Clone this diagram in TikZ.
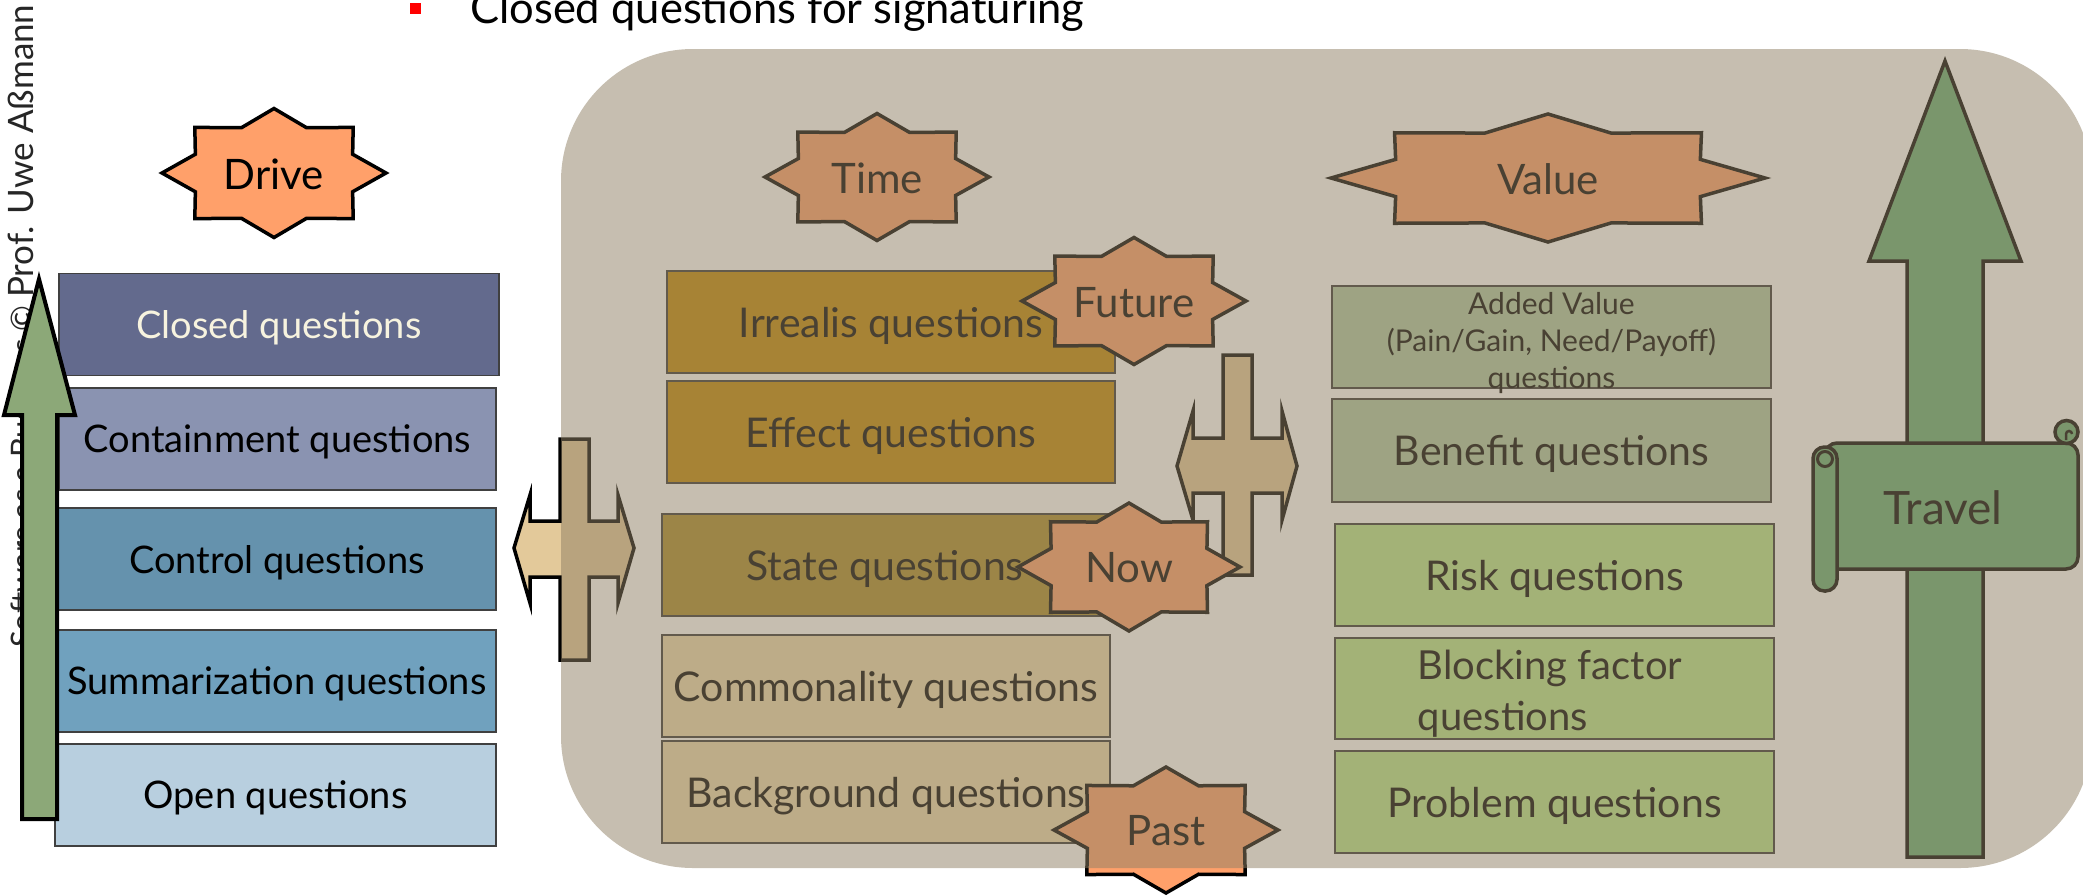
\documentclass[tikz,border=0pt]{standalone}
\usepackage{fontspec}
\setmainfont{Lato}
\definecolor{ovl}{RGB}{144,128,101}
\definecolor{starorange}{RGB}{255,160,106}
\definecolor{crosstan}{RGB}{227,201,154}
\definecolor{lgreen}{RGB}{140,168,120}
\definecolor{travelgreen}{RGB}{99,174,116}
\definecolor{cClosed}{RGB}{99,106,141}
\definecolor{cContain}{RGB}{138,147,177}
\definecolor{cControl}{RGB}{101,146,173}
\definecolor{cSumm}{RGB}{112,161,190}
\definecolor{cOpen}{RGB}{184,207,223}
\definecolor{cCream}{RGB}{247,243,223}
\definecolor{cIrr}{RGB}{193,136,4}
\definecolor{cState}{RGB}{169,140,41}
\definecolor{cCommon}{RGB}{237,219,173}
\definecolor{cAdded}{RGB}{173,202,163}
\definecolor{cRisk}{RGB}{185,231,140}
\newcommand{\eightstar}[5]{%
  \draw[#1] plot[samples at={0,...,15}]
    ({#2+#4*(1-0.24*mod(\x,2))*cos(\x*22.5)},{#3+#5*(1-0.24*mod(\x,2))*sin(\x*22.5)}) -- cycle;}
\begin{document}
\begin{tikzpicture}[x=1pt,y=-1pt,
  lbox/.style={draw=black!75,line width=1.2pt,inner sep=0pt,minimum height=102pt,text depth=0pt,
    font=\fontsize{38}{46}\selectfont},
  rbox/.style={draw=black!80,line width=1.5pt,inner sep=0pt,minimum width=446pt,minimum height=102pt,
    text depth=0pt,font=\fontsize{41}{49}\selectfont},
  starsty/.style={fill=starorange,draw=black,line width=3.5pt},
  startext/.style={inner sep=0pt,font=\fontsize{42}{50}\selectfont},
  shapeline/.style={draw=black,line width=3.5pt,line join=miter}]
\useasboundingbox (0,0) rectangle (2083,895);
\clip (0,0) rectangle (2083,895);

% title
\node[fill=red,inner sep=0pt,minimum width=11pt,minimum height=11pt] (bullet) at (415.5,8.5) {};
\node[anchor=base west,inner sep=0pt,font=\fontsize{43.5}{52}\selectfont] (title) at (470,23) {Closed questions for signaturing};

% footer (vertical)
\node[rotate=90,anchor=base west,inner sep=0pt,text=black!85,font=\fontsize{31}{37}\selectfont] (footer) at (34,648) {Software as a Business © {\fontsize{35}{40}\selectfont Prof. Uwe Aßmann}};

% left boxes
\node[lbox,fill=cClosed,text=cCream,minimum width=440pt] (closed) at (279,324.5) {Closed questions};
\node[lbox,fill=cContain,minimum width=437pt] (contain) at (277.5,439) {Containment questions};
\node[lbox,fill=cControl,minimum width=438pt] (control) at (277,559) {Control questions};
\node[lbox,fill=cSumm,minimum width=438pt] (summ) at (277,681) {Summarization questions};
\node[lbox,fill=cOpen,minimum width=441pt] (open) at (275.5,795) {Open questions};

% left green arrow
\draw[fill=lgreen,draw=black,line width=4pt] (39,279) -- (75,415) -- (57,415) -- (57,819) -- (22,819) -- (22,415) -- (4,415) -- cycle;

% Drive star
\eightstar{starsty}{274}{173}{112}{64.5}
\node[startext] (drive) at (274,174) {Drive};

% right panel content
\node[rbox,fill=cIrr,minimum width=448pt] (irrealis) at (891,322) {Irrealis questions};
\node[rbox,fill=cIrr,minimum width=448pt] (effect) at (891,432) {Effect questions};
\node[rbox,fill=cState] (state) at (885,565) {State questions};
\node[rbox,fill=cCommon,minimum width=448pt] (common) at (886,686) {Commonality questions};
\node[rbox,fill=cCommon,minimum width=448pt] (background) at (886,792) {Background questions};

\node[rbox,fill=cAdded,minimum width=439pt] (added) at (1551.5,337) {};
\node[align=center,inner sep=0pt,font=\fontsize{30}{37}\selectfont] (addedtext) at (1551.5,343) {Added Value\\(Pain/Gain, Need/Payoff)\\questions};
\node[rbox,fill=cAdded,minimum width=439pt,minimum height=103pt] (benefit) at (1551.5,450.5) {Benefit questions};
\node[rbox,fill=cRisk,minimum width=439pt] (risk) at (1554.5,575) {Risk questions};
\node[rbox,fill=cRisk,minimum width=439pt,minimum height=101pt] (blocking) at (1554.5,688.5) {};
\node[align=left,inner sep=0pt,font=\fontsize{40}{51}\selectfont] (blockingtext) at (1550,694) {Blocking factor\\questions};
\node[rbox,fill=cRisk,minimum width=439pt] (problem) at (1554.5,802) {Problem questions};

% left cross
\draw[shapeline,fill=crosstan] (560,439) -- (589,439) -- (589,521) -- (618,521) -- (618,495) -- (634,548) -- (618,603) -- (618,577) -- (589,577) -- (589,660) -- (560,660) -- (560,577) -- (530,577) -- (530,603) -- (514,548) -- (530,495) -- (530,521) -- (560,521) -- cycle;
% right cross
\draw[shapeline,fill=crosstan] (1223,355) -- (1252,355) -- (1252,438) -- (1282,438) -- (1282,411) -- (1297,466) -- (1282,520) -- (1282,493) -- (1252,493) -- (1252,575) -- (1223,575) -- (1223,493) -- (1193,493) -- (1193,520) -- (1177,466) -- (1193,411) -- (1193,438) -- (1223,438) -- cycle;

% travel arrow and scroll
\draw[shapeline,fill=travelgreen] (1945,61) -- (2021,261) -- (1983,261) -- (1983,857) -- (1907,857) -- (1907,261) -- (1869,261) -- cycle;
\draw[shapeline,fill=travelgreen,rounded corners=12pt] (1825,443) rectangle (2078,569);
\draw[shapeline,fill=travelgreen] (2066.5,432) circle (11.5pt);
\draw[draw=black,line width=2.5pt] (2066,440) -- (2066,434) arc (180:0:3pt);
\draw[shapeline,fill=travelgreen,rounded corners=11.5pt] (1813,447) rectangle (1837,591);
\draw[draw=black,line width=3pt] (1825,459) circle (7.5pt);
\node[inner sep=0pt,font=\fontsize{46}{55}\selectfont] (travel) at (1943,508) {Travel};

% stars in right panel
\eightstar{starsty}{877}{177}{112}{63.5}
\node[startext] (time) at (877,178) {Time};
\eightstar{starsty}{1548}{178}{217}{64}
\node[startext] (value) at (1548,179) {Value};
\eightstar{starsty}{1134}{301}{112}{63.5}
\node[startext] (future) at (1134,303) {Future};
\eightstar{starsty}{1129}{567}{111}{64}
\node[startext] (now) at (1129,568) {Now};
\eightstar{starsty}{1166}{830}{112}{63}
\node[startext] (past) at (1166,831) {Past};

% translucent panel overlay
\fill[ovl,fill opacity=0.515,rounded corners=132pt] (561,49) rectangle (2092,868);
\end{tikzpicture}
\end{document}
